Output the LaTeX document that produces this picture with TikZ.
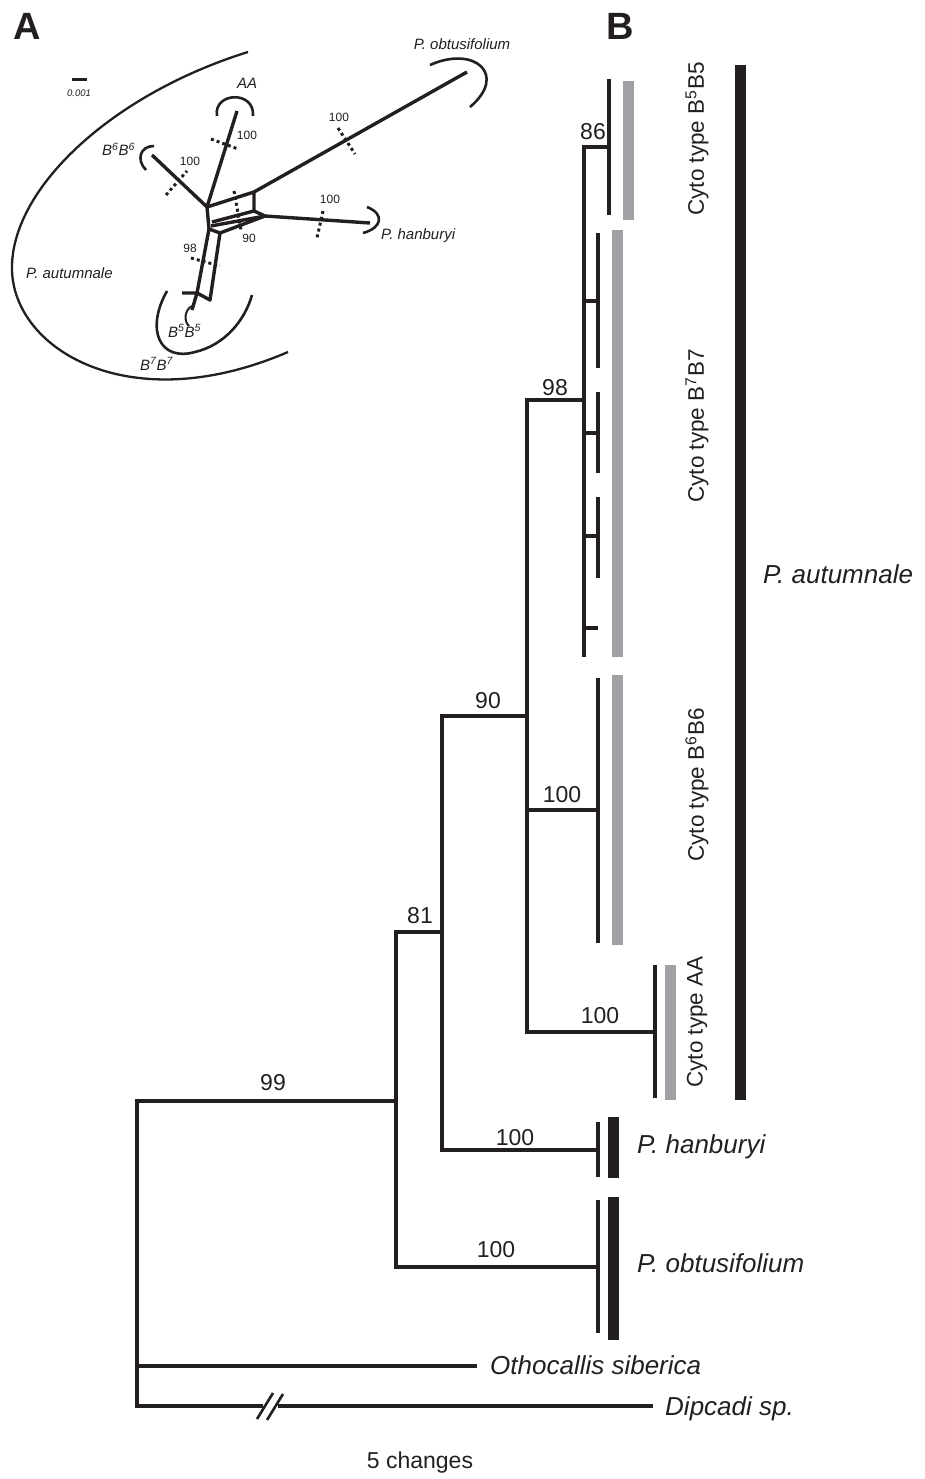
\documentclass[tikz,border=0pt]{standalone}
\usepackage{fontspec}
\setmainfont{Liberation Sans}
\definecolor{ink}{HTML}{231F20}
\definecolor{bargray}{HTML}{A0A1A5}
\tikzset{
  br/.style={draw=ink, line width=3.2pt, line join=miter},
  net/.style={draw=ink, line width=3.4pt, line join=round},
  arcline/.style={draw=ink, line width=2.6pt},
  dotmark/.style={draw=ink, line width=3pt, dash pattern=on 3pt off 3pt},
  graybar/.style={fill=bargray, draw=none},
  blackbar/.style={fill=ink, draw=none},
  num/.style={inner sep=0pt, anchor=base, text=ink, font=\fontsize{23}{26}\selectfont},
  taxon/.style={inner sep=0pt, anchor=base west, text=ink, font=\fontsize{26}{30}\selectfont\itshape},
  cyto/.style={inner sep=0pt, rotate=90, text=ink, font=\fontsize{22.5}{26}\selectfont},
  panel/.style={inner sep=0pt, text=ink, font=\fontsize{38}{40}\selectfont\bfseries},
  smalllab/.style={inner sep=0pt, anchor=base, text=ink, font=\fontsize{15}{17}\selectfont\itshape},
  smallnum/.style={inner sep=0pt, anchor=base, text=ink, font=\fontsize{12}{14}\selectfont},
}
\begin{document}
\begin{tikzpicture}[x=1pt,y=-1pt]
\useasboundingbox (0,0) rectangle (924,1479);

% ---------------- panel labels ----------------
\node[panel] (pA) at (27,26) {A};
\node[panel] (pB) at (620,26) {B};

% ---------------- Panel A : network ----------------
\fill[ink] (72,78) rectangle (87,81.5);
\node[inner sep=0pt, text=ink, font=\fontsize{9.5}{11}\selectfont\itshape] (scale) at (79,93) {0.001};

\coordinate (c) at (207,207);
\coordinate (aa) at (237,111);
\coordinate (b6) at (152,155);
\coordinate (t) at (254,192);
\coordinate (ob) at (467,72);
\coordinate (r) at (254,211);
\coordinate (h) at (265,216);
\coordinate (hb) at (370,223);
\coordinate (m1) at (212,222);
\coordinate (m1b) at (211,226);
\coordinate (l2) at (209,229);
\coordinate (m2) at (220,233);
\coordinate (bl) at (197,293);
\coordinate (bro) at (210,300);
\coordinate (stub) at (182,293);
\coordinate (tail) at (192,310);

\draw[net] (c) -- (aa);
\draw[net] (c) -- (b6);
\draw[net] (c) -- (t) -- (r) -- (h) -- (hb);
\draw[net] (t) -- (ob);
\draw[net] (r) -- (m1);
\draw[net] (m1b) -- (h);
\draw[net] (c) -- (l2) -- (m2) -- (h);
\draw[net] (l2) -- (bl);
\draw[net] (m2) -- (bro) -- (bl);
\draw[net] (stub) -- (bl) -- (tail);

% split marks
\draw[dotmark] (211,139) -- (238,149);
\draw[dotmark] (166,195) -- (187,171);
\draw[dotmark] (338,128) -- (355,154);
\draw[dotmark] (323,211) -- (317,238);
\draw[dotmark] (234,191) -- (241,230);
\draw[dotmark] (191,258) -- (220,266);

% arcs
\draw[arcline, line width=2.3pt] (248,52) .. controls (110,95) and (10,190) .. (12,270) .. controls (14,350) and (130,420) .. (288,352);
\draw[arcline] (217,116) .. controls (213,92) and (255,90) .. (253,116);
\draw[arcline] (146,170) .. controls (136,160) and (140,146) .. (154,146);
\draw[arcline] (430,65) .. controls (475,45) and (508,75) .. (470,107);
\draw[arcline] (367,207) .. controls (385,214) and (382,228) .. (363,233);
\draw[arcline] (167,291) .. controls (145,330) and (160,362) .. (195,352) .. controls (225,345) and (245,320) .. (252,295);
\draw[arcline, line width=2pt] (192,306) .. controls (184,310) and (184,322) .. (189,326);

% labels in A
\node[smalllab] (lob) at (462,50) {P. obtusifolium};
\node[smalllab, anchor=base west] (lhan) at (381,240) {P. hanburyi};
\node[smalllab, anchor=base west] (laut) at (26,278) {P. autumnale};
\node[smalllab, anchor=base west] (laa) at (237,89) {AA};
\node[smalllab, anchor=base west] (lb6) at (102,156) {B\textsuperscript{6}B\textsuperscript{6}};
\node[smalllab, anchor=base west] (lb5) at (168,337) {B\textsuperscript{5}B\textsuperscript{5}};
\node[smalllab, anchor=base west] (lb7) at (140,370) {B\textsuperscript{7}B\textsuperscript{7}};
\node[smallnum] (na1) at (247,140) {100};
\node[smallnum] (na2) at (190,166) {100};
\node[smallnum] (na3) at (339,122) {100};
\node[smallnum] (na4) at (330,204) {100};
\node[smallnum] (na5) at (249,243) {90};
\node[smallnum] (na6) at (190,253) {98};

% ---------------- Panel B : tree ----------------
\coordinate (R1) at (137,1101);
\coordinate (R3) at (137,1406);
\coordinate (Rot) at (137,1366);
\coordinate (N99) at (396,1101);
\coordinate (N99t) at (396,932);
\coordinate (N99b) at (396,1267);
\coordinate (N81) at (442,932);
\coordinate (N81t) at (442,716);
\coordinate (N81b) at (442,1150);
\coordinate (N90) at (527,716);
\coordinate (N90t) at (527,400);
\coordinate (N90m) at (527,810);
\coordinate (N90b) at (527,1032);
\coordinate (N98) at (584,400);
\coordinate (N98t) at (584,147);
\coordinate (N98b) at (584,657);
\coordinate (N86) at (609,147);
\coordinate (Tob) at (598,1267);
\coordinate (Than) at (598,1150);
\coordinate (Taa) at (655,1032);
\coordinate (Tb6) at (598,810);
\coordinate (Tot) at (477,1366);
\coordinate (Tdip) at (653,1406);
\coordinate (Bk1) at (263,1406);
\coordinate (Bk2) at (278,1406);

\draw[br] (N99) -- (R1) -- (R3) -- (Bk1);
\draw[br] (Bk2) -- (Tdip);
\draw[br] (Rot) -- (Tot);
\draw[br] (N81) -- (N99t) -- (N99b) -- (Tob);
\draw[br] (N90) -- (N81t) -- (N81b) -- (Than);
\draw[br] (N98) -- (N90t) -- (N90b) -- (Taa);
\draw[br] (N90m) -- (Tb6);
\draw[br] (N86) -- (N98t) -- (N98b);
% break marks
\draw[ink, line width=2.6pt] (257,1419) -- (273,1393);
\draw[ink, line width=2.6pt] (267,1420) -- (283,1394);

% B7B7 terminal structure
\draw[br] (584,301) -- (598,301);
\draw[br] (584,433) -- (598,433);
\draw[br] (584,536) -- (598,536);
\draw[br] (584,628) -- (598,628);
\draw[br] (598,233) -- (598,368);
\draw[br] (598,392) -- (598,473);
\draw[br] (598,497) -- (598,578);
% tip verticals
\draw[br] (609,79) -- (609,215);
\draw[br] (598,678) -- (598,943);
\draw[br] (655,965) -- (655,1098);
\draw[br] (598,1122) -- (598,1177);
\draw[br] (598,1200) -- (598,1333);

% bars
\fill[graybar] (623,81) rectangle (634,220);
\fill[graybar] (612,230) rectangle (623,657);
\fill[graybar] (612,675) rectangle (623,945);
\fill[graybar] (665,965) rectangle (676,1100);
\fill[blackbar] (735,65) rectangle (746,1100);
\fill[blackbar] (608,1117) rectangle (619,1178);
\fill[blackbar] (608,1197) rectangle (619,1340);

% support values
\node[num] (v99) at (273,1090) {99};
\node[num] (v81) at (420,923) {81};
\node[num] (v90) at (488,708) {90};
\node[num] (v98) at (555,395) {98};
\node[num] (v86) at (593,140) {86};
\node[num] (vb6) at (562,802) {100};
\node[num] (vaa) at (600,1023) {100};
\node[num] (vhan) at (515,1145) {100};
\node[num] (vob) at (496,1257) {100};

% cytotype labels
\node[cyto] (cb5) at (697,139) {Cyto type B\textsuperscript{5}B5};
\node[cyto] (cb7) at (697,426) {Cyto type B\textsuperscript{7}B7};
\node[cyto] (cb6) at (697,785) {Cyto type B\textsuperscript{6}B6};
\node[cyto] (caa) at (697,1022) {Cyto type AA};

% taxon labels
\node[taxon] (taut) at (763,583) {P. autumnale};
\node[taxon] (than) at (637,1153) {P. hanburyi};
\node[taxon] (tob) at (637,1272) {P. obtusifolium};
\node[taxon] (toth) at (490,1374) {Othocallis siberica};
\node[taxon] (tdip) at (665,1415) {Dipcadi sp.};

\node[num, font=\fontsize{23}{26}\selectfont] (chg) at (420,1468) {5 changes};
\end{tikzpicture}
\end{document}
